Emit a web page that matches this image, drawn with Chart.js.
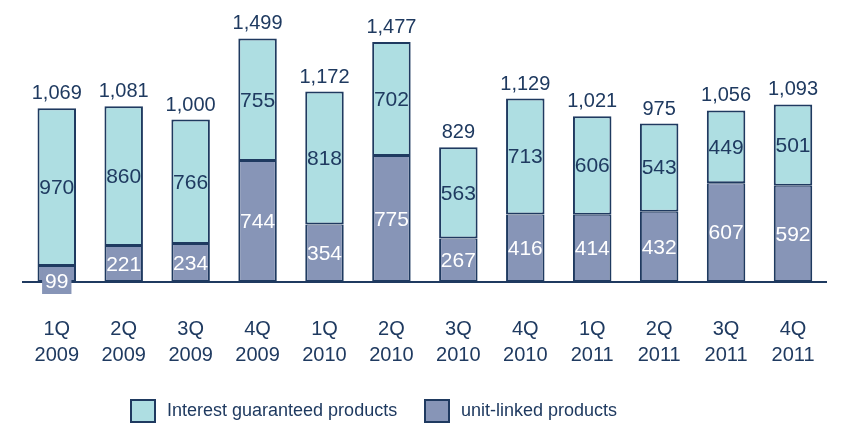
<!DOCTYPE html>
<html>
<head>
<meta charset="utf-8">
<script src="https://cdn.jsdelivr.net/npm/chart.js@4/dist/chart.umd.min.js"></script>
<style>
  html, body { margin: 0; padding: 0; background: #ffffff; }
  #wrap { width: 849px; height: 425px; position: relative; }
</style>
</head>
<body>
<div id="wrap"><canvas id="c" width="849" height="425"></canvas></div>
<script>
// Quarterly new business, split by product type
const quarters = [
  ['1Q', '2009'], ['2Q', '2009'], ['3Q', '2009'], ['4Q', '2009'],
  ['1Q', '2010'], ['2Q', '2010'], ['3Q', '2010'], ['4Q', '2010'],
  ['1Q', '2011'], ['2Q', '2011'], ['3Q', '2011'], ['4Q', '2011']
];
const unitLinked = [99, 221, 234, 744, 354, 775, 267, 416, 414, 432, 607, 592];
const interestGuaranteed = [970, 860, 766, 755, 818, 702, 563, 713, 606, 543, 449, 501];
const totals = [1069, 1081, 1000, 1499, 1172, 1477, 829, 1129, 1021, 975, 1056, 1093];

const NAVY = '#1f3a60';
const CYAN = '#aedee2';
const SLATE = '#8795b7';
const FONT = "'Liberation Sans', Arial, sans-serif";

const fmt = v => v.toLocaleString('en-US');

// Value labels inside each segment and the total above each stack
const valueLabels = {
  id: 'valueLabels',
  afterDatasetsDraw(chart) {
    const ctx = chart.ctx;
    ctx.save();
    ctx.textAlign = 'center';
    chart.data.datasets.forEach((ds, di) => {
      const meta = chart.getDatasetMeta(di);
      meta.data.forEach((bar, i) => {
        const top = Math.min(bar.y, bar.base);
        const h = Math.abs(bar.base - bar.y);
        const cy = top + h / 2;
        const txt = fmt(ds.data[i]);
        ctx.font = '21px ' + FONT;
        ctx.textBaseline = 'middle';
        if (h < 24) {
          // too thin for the text: put it on a filled tag at the base
          const w = ctx.measureText(txt).width + 6;
          ctx.fillStyle = ds.backgroundColor;
          ctx.fillRect(bar.x - w / 2, bar.base - 14, w, 26);
          ctx.fillStyle = '#ffffff';
          ctx.fillText(txt, bar.x, bar.base);
        } else {
          ctx.fillStyle = di === 0 ? '#ffffff' : NAVY;
          ctx.fillText(txt, bar.x, cy + 1);
        }
      });
    });
    // totals
    const topMeta = chart.getDatasetMeta(chart.data.datasets.length - 1);
    ctx.font = '20px ' + FONT;
    ctx.textBaseline = 'alphabetic';
    ctx.fillStyle = NAVY;
    topMeta.data.forEach((bar, i) => {
      ctx.fillText(fmt(totals[i]), bar.x, bar.y - 9);
    });
    ctx.restore();
  }
};

// Legend row under the axis labels
const bottomLegend = {
  id: 'bottomLegend',
  afterDraw(chart) {
    const ctx = chart.ctx;
    ctx.save();
    ctx.font = '18px ' + FONT;
    ctx.textBaseline = 'middle';
    ctx.textAlign = 'left';
    const order = [1, 0];
    const starts = [130, 424];
    order.forEach((di, k) => {
      const ds = chart.data.datasets[di];
      const x = starts[k];
      const y = 399;
      ctx.fillStyle = ds.backgroundColor;
      ctx.fillRect(x, y, 26, 24);
      ctx.strokeStyle = NAVY;
      ctx.lineWidth = 2;
      ctx.strokeRect(x + 1, y + 1, 24, 22);
      ctx.fillStyle = NAVY;
      ctx.fillText(ds.label, x + 37, y + 12);
    });
    ctx.restore();
  }
};

new Chart(document.getElementById('c'), {
  type: 'bar',
  data: {
    labels: quarters,
    datasets: [
      {
        label: 'unit-linked products',
        data: unitLinked,
        backgroundColor: SLATE,
        borderColor: NAVY,
        borderWidth: { top: 1, left: 2, right: 2, bottom: 2 },
        borderSkipped: false
      },
      {
        label: 'Interest guaranteed products',
        data: interestGuaranteed,
        backgroundColor: CYAN,
        borderColor: NAVY,
        borderWidth: { top: 2, left: 2, right: 2, bottom: 2 },
        borderSkipped: false
      }
    ]
  },
  options: {
    responsive: false,
    animation: false,
    devicePixelRatio: 1,
    layout: { padding: { top: 22, left: 22, right: 13, bottom: 23 } },
    datasets: { bar: { categoryPercentage: 1.0, barPercentage: 0.575 } },
    scales: {
      x: {
        stacked: true,
        grid: { display: false, drawTicks: false },
        border: { display: true, color: NAVY, width: 2 },
        ticks: {
          color: NAVY,
          padding: 34,
          font: { family: FONT, size: 20, lineHeight: 1.3 },
          maxRotation: 0,
          autoSkip: false
        }
      },
      y: {
        stacked: true,
        display: false,
        min: 0,
        max: 1600
      }
    },
    plugins: {
      legend: { display: false },
      tooltip: { enabled: false }
    }
  },
  plugins: [valueLabels, bottomLegend]
});
</script>
</body>
</html>
